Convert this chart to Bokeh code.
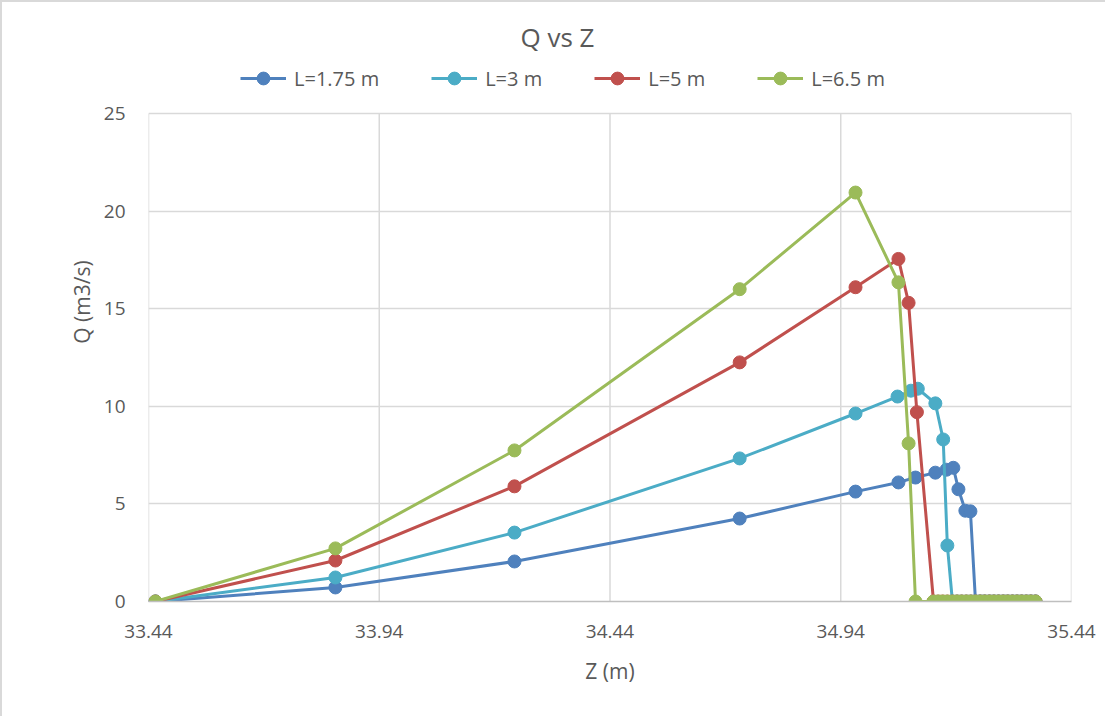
from bokeh.plotting import figure
from bokeh.models import (Range1d, FixedTicker, PrintfTickFormatter, Legend, LegendItem, Label)
from bokeh.embed import file_html
from bokeh.resources import INLINE

# ---- data ----
title_text = "Q vs Z"
x_label = "Z (m)"
y_label = "Q (m3/s)"
x_ticks = [33.44, 33.94, 34.44, 34.94, 35.44]
y_ticks = [0, 5, 10, 15, 20, 25]
y_max = 25

names = ["L=1.75 m", "L=3 m", "L=5 m", "L=6.5 m"]

z_175 = [33.455, 33.845, 34.233, 34.721, 34.972, 35.065, 35.102, 35.145, 35.169, 35.184,
         35.195, 35.210, 35.221, 35.232, 35.242, 35.252, 35.262, 35.272, 35.282, 35.292,
         35.302, 35.312, 35.322, 35.332, 35.342, 35.352, 35.362]
q_175 = [0, 0.72, 2.05, 4.25, 5.63, 6.10, 6.35, 6.60, 6.75, 6.85,
         5.75, 4.65, 4.62, 0, 0, 0, 0, 0, 0, 0,
         0, 0, 0, 0, 0, 0, 0]

z_3 = [33.455, 33.845, 34.233, 34.721, 34.972, 35.063, 35.092, 35.107, 35.145, 35.162,
       35.171, 35.182, 35.192, 35.202, 35.212, 35.222, 35.232, 35.242, 35.252, 35.262,
       35.272, 35.282, 35.292, 35.302, 35.312, 35.322, 35.332, 35.342, 35.352, 35.362]
q_3 = [0, 1.23, 3.53, 7.33, 9.63, 10.50, 10.80, 10.90, 10.15, 8.30,
       2.87, 0, 0, 0, 0, 0, 0, 0, 0, 0,
       0, 0, 0, 0, 0, 0, 0, 0, 0, 0]

z_5 = [33.455, 33.845, 34.233, 34.721, 34.972, 35.065, 35.087, 35.105, 35.141, 35.151,
       35.161, 35.171, 35.182, 35.192, 35.202, 35.212, 35.222, 35.232, 35.242, 35.252,
       35.262, 35.272, 35.282, 35.292, 35.302, 35.312, 35.322, 35.332, 35.342, 35.352, 35.362]
q_5 = [0, 2.10, 5.90, 12.25, 16.10, 17.55, 15.30, 9.70, 0, 0,
       0, 0, 0, 0, 0, 0, 0, 0, 0, 0,
       0, 0, 0, 0, 0, 0, 0, 0, 0, 0, 0]

z_65 = [33.455, 33.845, 34.233, 34.721, 34.972, 35.065, 35.087, 35.102, 35.141, 35.151,
        35.161, 35.171, 35.182, 35.192, 35.202, 35.212, 35.222, 35.232, 35.242, 35.252,
        35.262, 35.272, 35.282, 35.292, 35.302, 35.312, 35.322, 35.332, 35.342, 35.352, 35.362]
q_65 = [0, 2.72, 7.74, 16.00, 20.95, 16.35, 8.10, 0, 0, 0,
        0, 0, 0, 0, 0, 0, 0, 0, 0, 0,
        0, 0, 0, 0, 0, 0, 0, 0, 0, 0, 0]

series_z = [z_175, z_3, z_5, z_65]
series_q = [q_175, q_3, q_5, q_65]
colors = ["#4f81bd", "#4bacc6", "#c0504d", "#9bbb59"]

FONT = "Open Sans"
TXT = "#595959"
GRID = "#d9d9d9"

# frame extends to the top of the chart so that the title and legend can sit inside it;
# the value axis still spans 0..25 over the lower 488 px
FRAME_H = 599
PLOT_H = 488
p = figure(frame_width=923, frame_height=FRAME_H, output_backend="svg", toolbar_location=None,
           x_range=Range1d(33.44, 35.44), y_range=Range1d(0, y_max * FRAME_H / PLOT_H),
           min_border_left=146, min_border_right=34, min_border_top=0, min_border_bottom=115)
p.styles = {"border-left": "2px solid #d9d9d9", "border-top": "2px solid #d9d9d9"}
p.outline_line_color = None
p.background_fill_color = "white"
p.border_fill_color = "white"

for ax in (p.xaxis[0], p.yaxis[0]):
    ax.major_tick_line_color = None
    ax.minor_tick_line_color = None
    ax.major_label_text_font = FONT
    ax.major_label_text_font_size = "19px"
    ax.major_label_text_color = TXT
    ax.axis_label_text_font = FONT
    ax.axis_label_text_font_size = "21px"
    ax.axis_label_text_font_style = "normal"
    ax.axis_label_text_color = TXT

p.xaxis.ticker = FixedTicker(ticks=x_ticks)
p.xaxis.formatter = PrintfTickFormatter(format="%.2f")
p.yaxis.ticker = FixedTicker(ticks=y_ticks)
p.xaxis.axis_label = x_label
p.yaxis.axis_label = y_label
p.xaxis.axis_line_color = "#bfbfbf"
p.xaxis.axis_line_width = 1.5
p.yaxis.axis_line_color = None
p.xaxis.major_label_standoff = 17
p.yaxis.major_label_standoff = 17
p.xaxis.axis_label_standoff = 16
p.yaxis.axis_label_standoff = 5

p.ygrid.grid_line_color = GRID
p.ygrid.grid_line_width = 1.5
p.xgrid.visible = False
# vertical gridlines only over the value range 0..25
p.segment(x0=x_ticks, y0=[0] * len(x_ticks), x1=x_ticks, y1=[y_max] * len(x_ticks),
          line_color=GRID, line_width=1.5, level="underlay")

items = []
for name, zs, qs, c in zip(names, series_z, series_q, colors):
    l = p.line(zs, qs, line_color=c, line_width=3)
    s = p.scatter(zs, qs, size=13, fill_color=c, line_color=c)
    items.append(LegendItem(label=name, renderers=[l, s]))

legend = Legend(items=items, orientation="horizontal", location=(92, 507),
                padding=0, margin=0, spacing=52, label_standoff=8,
                glyph_width=46, glyph_height=32, label_height=32,
                label_text_font=FONT, label_text_font_size="20px", label_text_color=TXT,
                border_line_color=None, background_fill_alpha=0)
p.add_layout(legend, "center")

p.add_layout(Label(x=409, y=565, x_units="screen", y_units="screen", text=title_text,
                   text_align="center", text_baseline="middle", text_font=FONT,
                   text_font_size="26px", text_color=TXT))

open("out.html", "w").write(file_html(p, INLINE))
